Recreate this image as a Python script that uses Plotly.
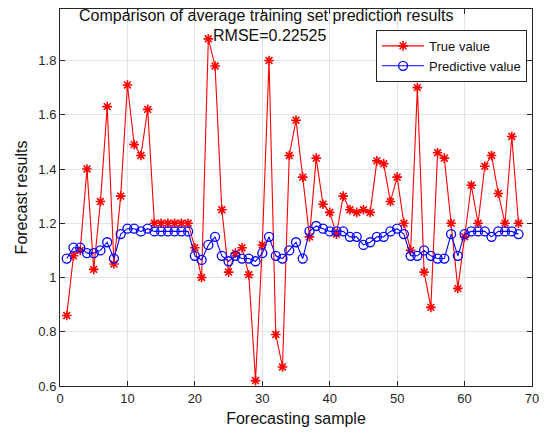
import plotly.graph_objects as go

sample = list(range(1, 69))
true_value = [0.86, 1.08, 1.10, 1.40, 1.03, 1.28, 1.63, 1.05, 1.30, 1.71,
              1.49, 1.45, 1.62, 1.20, 1.20, 1.20, 1.20, 1.20, 1.20, 1.11,
              1.00, 1.88, 1.78, 1.25, 1.02, 1.09, 1.11, 1.01, 0.62, 1.12,
              1.80, 0.79, 0.67, 1.45, 1.58, 1.37, 1.15, 1.44, 1.27, 1.24,
              1.16, 1.30, 1.25, 1.24, 1.25, 1.24, 1.43, 1.42, 1.28, 1.37,
              1.20, 1.10, 1.70, 1.02, 0.89, 1.46, 1.44, 1.20, 0.96, 1.15,
              1.34, 1.20, 1.41, 1.45, 1.31, 1.20, 1.52, 1.20]
pred_value = [1.07, 1.11, 1.11, 1.09, 1.09, 1.10, 1.13, 1.07, 1.16, 1.18,
              1.18, 1.17, 1.18, 1.17, 1.17, 1.17, 1.17, 1.17, 1.17, 1.08,
              1.065, 1.12, 1.15, 1.08, 1.06, 1.08, 1.07, 1.07, 1.06, 1.09,
              1.15, 1.08, 1.07, 1.10, 1.13, 1.07, 1.17, 1.19, 1.18, 1.17,
              1.17, 1.17, 1.15, 1.15, 1.12, 1.13, 1.15, 1.15, 1.17, 1.18,
              1.16, 1.08, 1.08, 1.10, 1.08, 1.07, 1.07, 1.16, 1.08, 1.16,
              1.17, 1.17, 1.17, 1.15, 1.17, 1.17, 1.17, 1.16]
x_ticks = [0, 10, 20, 30, 40, 50, 60, 70]
y_ticks = [0.6, 0.8, 1.0, 1.2, 1.4, 1.6, 1.8]
y_tick_labels = ["0.6", "0.8", "1", "1.2", "1.4", "1.6", "1.8"]
title_line1 = "Comparison of average training set prediction results"
title_line2 = "RMSE=0.22525"

FONT = "Liberation Sans, Arial, Helvetica, sans-serif"
AX = "#262626"
TXT = "#111111"

fig = go.Figure()
fig.add_trace(go.Scatter(
    x=sample, y=true_value, name="True value", mode="lines+markers",
    line=dict(color="#ff0000", width=1.1),
    marker=dict(symbol="asterisk-open", size=8, color="#ff0000",
                line=dict(color="#ff0000", width=1.6)),
))
fig.add_trace(go.Scatter(
    x=sample, y=pred_value, name="Predictive value", mode="lines+markers",
    line=dict(color="#0000ff", width=1.1),
    marker=dict(symbol="circle-open", size=9, color="#0000ff",
                line=dict(color="#0000ff", width=1.3)),
))

axis_common = dict(
    showgrid=True, gridcolor="#e3e3e3", gridwidth=1,
    showline=True, linecolor=AX, linewidth=1, mirror="allticks",
    ticks="inside", ticklen=5, tickcolor=AX, tickwidth=1,
    zeroline=False, tickfont=dict(family=FONT, size=13, color=AX),
)

# plot area: x 60..538, y 8..386 pixels
PW, PH = 478, 378

fig.update_layout(
    width=547, height=437,
    margin=dict(l=60, r=9, t=8, b=51),
    paper_bgcolor="white", plot_bgcolor="white",
    font=dict(family=FONT, color=AX),
    showlegend=True,
    legend=dict(
        x=(533 - 60) / PW, xanchor="right", y=1 - 21 / PH, yanchor="top",
        bordercolor=AX, borderwidth=1, bgcolor="white",
        font=dict(family=FONT, size=13, color=TXT),
        tracegroupgap=0, itemwidth=42,
    ),
    xaxis=dict(axis_common, range=[0, 70], tickvals=x_ticks,
               title=dict(text="Forecasting sample", standoff=8,
                          font=dict(family=FONT, size=16, color=TXT))),
    yaxis=dict(axis_common, range=[0.6, 1.99], tickvals=y_ticks,
               ticktext=y_tick_labels,
               title=dict(text="Forecast results", standoff=6,
                          font=dict(family=FONT, size=16, color=TXT))),
    annotations=[
        dict(text=title_line1, xref="paper", yref="paper",
             x=(269 - 60) / PW, y=1 - (15 - 8) / PH, xanchor="center",
             yanchor="middle", showarrow=False,
             font=dict(family=FONT, size=16, color=TXT)),
        dict(text=title_line2, xref="paper", yref="paper",
             x=(273 - 60) / PW, y=1 - (35 - 8) / PH, xanchor="center",
             yanchor="middle", showarrow=False,
             font=dict(family=FONT, size=16, color=TXT)),
    ],
)

fig.write_html("out.html")
